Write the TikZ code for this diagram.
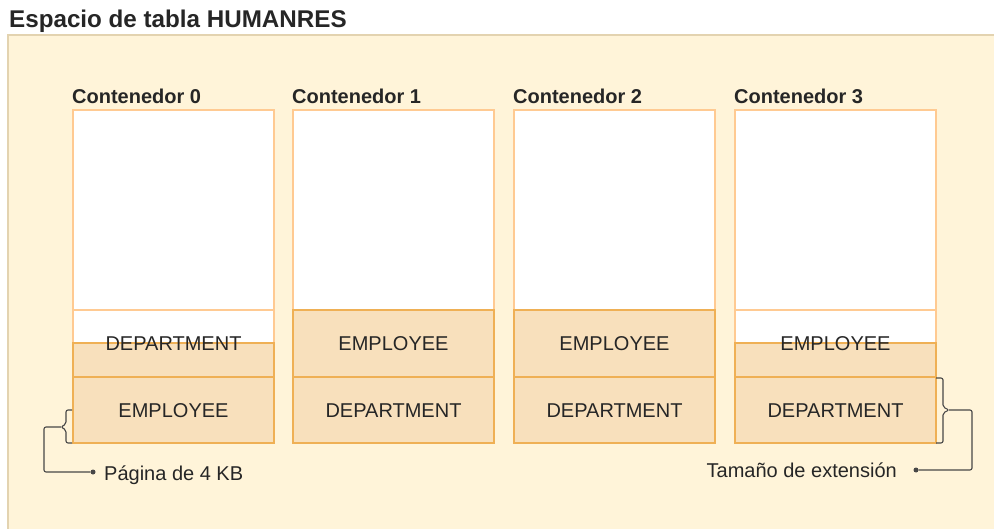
\documentclass[tikz,border=0pt]{standalone}
\usepackage{fontspec}
\setmainfont{Liberation Sans}
\definecolor{bgfill}{HTML}{FFF4D9}
\definecolor{bgline}{HTML}{E3D3B0}
\definecolor{extfill}{HTML}{F8E0BC}
\definecolor{boxline}{HTML}{EFB055}
\definecolor{lightline}{HTML}{FFCA92}
\definecolor{connc}{HTML}{474747}
\definecolor{txt}{HTML}{262626}
\begin{document}
\begin{tikzpicture}[x=1pt,y=-1pt,
  lbl/.style={font=\fontsize{20}{24}\selectfont, text=txt, inner sep=0pt},
  ctitle/.style={font=\fontsize{20}{24}\selectfont\bfseries, text=txt, inner sep=0pt, anchor=base west},
  ttl/.style={font=\fontsize{24.2}{28}\selectfont\bfseries, text=txt, inner sep=0pt, anchor=base west},
  upper/.style={draw=lightline, line width=1.3pt},
  lower/.style={draw=boxline, line width=1.5pt},
  conn/.style={draw=connc, line width=1.1pt, rounded corners=2pt},
  dotmark/.style={circle, fill=connc, inner sep=0pt, minimum size=5pt},
]
\useasboundingbox (0,0) rectangle (994,529);
\fill[white] (0,0) rectangle (994,529);
\fill[bgfill] (8,35) rectangle (994,529);
\draw[bgline, line width=1.5pt] (8,529) -- (8,35) -- (994,35);
\node[ttl] (title) at (9,27.5) {Espacio de tabla HUMANRES};

\foreach \x/\i/\top/\a/\b in {73/0/343/DEPARTMENT/EMPLOYEE, 293/1/310/EMPLOYEE/DEPARTMENT, 514/2/310/EMPLOYEE/DEPARTMENT, 735/3/343/EMPLOYEE/DEPARTMENT}{
  \fill[white] (\x,110) rectangle (\x+201,\top);
  \fill[extfill] (\x,\top) rectangle (\x+201,443);
  \draw[upper] (\x,\top) -- (\x,110) -- (\x+201,110) -- (\x+201,\top);
  \draw[upper] (\x,310) -- (\x+201,310);
  \draw[lower] (\x,\top) -- (\x,443) -- (\x+201,443) -- (\x+201,\top) -- cycle;
  \draw[lower] (\x,377) -- (\x+201,377);
  \node[ctitle] (c\i) at (\x-1,104) {Contenedor \i};
  \node[lbl] (a\i) at (\x+100.5,344) {\a};
  \node[lbl] (b\i) at (\x+100.5,411) {\b};
}

% left brace: one 4 KB page
\coordinate (ltip) at (61,427);
\coordinate (lbend1) at (44,427);
\coordinate (lbend2) at (44,472);
\node[dotmark] (ldot) at (93,472) {};
\node[lbl, anchor=west] (pglbl) at (104,475) {Página de 4 KB};
\draw[conn] (72,410) -- (66,410) -- (66,424) -- (ltip) -- (66,430) -- (66,443) -- (72,443);
\draw[conn] (ltip) -- (lbend1) -- (lbend2) -- (ldot);

% right brace: extent size
\coordinate (rtip) at (949,410);
\coordinate (rbend1) at (972,410);
\coordinate (rbend2) at (972,470);
\node[dotmark] (rdot) at (916,470) {};
\node[lbl, anchor=east] (extlbl) at (897,470) {Tamaño de extensión};
\draw[conn] (936,378) -- (943,378) -- (943,407) -- (rtip) -- (943,413) -- (943,443) -- (936,443);
\draw[conn] (rtip) -- (rbend1) -- (rbend2) -- (rdot);
\end{tikzpicture}
\end{document}
